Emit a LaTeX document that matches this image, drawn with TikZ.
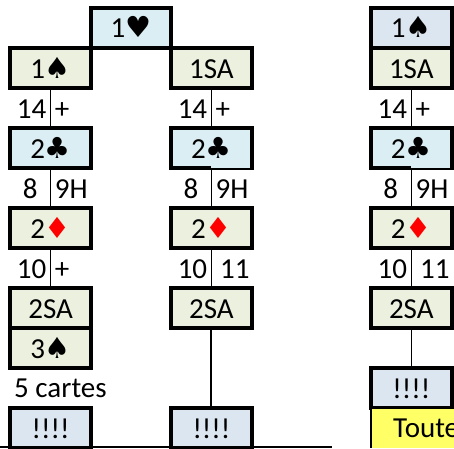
\documentclass[tikz,border=0pt]{standalone}
\usepackage{fontspec}
\setmainfont{Carlito}
\newfontfamily\suitfont{DejaVu Sans}
\usetikzlibrary{positioning}
\definecolor{bidblue}{HTML}{DAEEF3}
\definecolor{bidgreen}{HTML}{EBF1DE}
\definecolor{bidstop}{HTML}{DCE6F1}
\definecolor{bidnote}{HTML}{FFFF66}
\newcommand{\pique}{{\suitfont\char"2660}}
\newcommand{\coeur}{{\suitfont\char"2665}}
\newcommand{\trefle}{{\suitfont\char"2663}}
\newcommand{\carreau}{{\suitfont\color{red}\char"2666}}
\tikzset{
    bid/.style={draw, line width=4pt, minimum width=80.4pt, minimum height=40pt, inner sep=0pt, text height=22pt, text depth=2pt, font=\fontsize{29}{29}\selectfont},
    open/.style={bid, fill=bidblue},
    resp/.style={bid, fill=bidgreen},
    stopbox/.style={bid, fill=bidstop},
    link/.style={draw, line width=1.5pt},
    val/.style={inner sep=0pt, text height=22pt, text depth=2pt, font=\fontsize{29}{29}\selectfont},
}
\begin{document}
\begin{tikzpicture}[on grid, node distance=80pt]
    \useasboundingbox (0,0) rectangle (454pt,-448pt);
    \clip (0,0) rectangle (454pt,-448pt);

    % Column heads
    \node[open] (coeur1) at (131pt,-27.5pt) {1\coeur};
    \node[resp] (piqueA) [below left=40.5pt and 80.4pt of coeur1] {1\pique};
    \node[resp] (sansB) [below right=40.5pt and 80.4pt of coeur1] {1SA};

    % Left column
    \node[open] (trefleA) [below=of piqueA] {2\trefle};
    \node[resp] (carreauA) [below=of trefleA] {2\carreau};
    \node[resp] (deuxA) [below=of carreauA] {2SA};
    \node[resp] (troisA) [below=40pt of deuxA] {3\pique};
    \node[stopbox] (stopA) [below=80pt of troisA] {!!!!};
    \node[val, anchor=west] (cartes) at (14pt,-387pt) {5 cartes};

    % Middle column
    \node[open] (trefleB) [below=of sansB] {2\trefle};
    \node[resp] (carreauB) [below=of trefleB] {2\carreau};
    \node[resp] (deuxB) [below=of carreauB] {2SA};
    \node[stopbox] (stopB) [below=120pt of deuxB] {!!!!};

    % Right column
    \node[stopbox] (piqueC) at (411.3pt,-27.5pt) {1\pique};
    \node[resp] (sansC) [below=40.5pt of piqueC] {1SA};
    \node[open] (trefleC) [below=of sansC] {2\trefle};
    \node[resp] (carreauC) [below=of trefleC] {2\carreau};
    \node[resp] (deuxC) [below=of carreauC] {2SA};
    \node[stopbox] (stopC) [below=80pt of deuxC] {!!!!};
    \coordinate (noteA) at (371pt,-409pt);
    \coordinate (noteB) at (371pt,-448pt);
    \path[fill=bidnote] (noteA) rectangle (454pt,-448pt);
    \draw[line width=1.2pt] (noteA) -- (noteB);
    \node[val, anchor=base west] (toutes) at (393pt,-437pt) {Toute};

    % Thin right half of the lower border
    \path[fill=bidblue] ([yshift=1.6pt]trefleB.south) rectangle ([xshift=-4pt,yshift=4.2pt]trefleB.south east);
    \path[fill=bidblue] ([yshift=1.6pt]trefleC.south) rectangle ([xshift=-4pt,yshift=4.2pt]trefleC.south east);

    % Links
    \draw[link] (piqueA) -- node[val, left=3.5pt] (hA) {14} node[val, right=3.5pt] (pA) {+} (trefleA);
    \draw[link] (trefleA) -- node[val, xshift=-20.5pt] (bA) {8} node[val, right=3.5pt] (nA) {9H} (carreauA);
    \draw[link] (carreauA) -- node[val, left=3.5pt] (dA) {10} node[val, right=3.5pt] (qA) {+} (deuxA);

    \draw[link] (sansB) -- node[val, left=3.5pt] (hB) {14} node[val, right=3.5pt] (pB) {+} (trefleB);
    \draw[link] (trefleB) -- node[val, xshift=-20.5pt] (bB) {8} node[val, right=3.5pt] (nB) {9H} (carreauB);
    \draw[link] (carreauB) -- node[val, left=3.5pt] (dB) {10} node[val, right=8pt] (oB) {11} (deuxB);
    \draw[link, line width=2pt] (deuxB) -- (stopB);

    \draw[link] (sansC) -- node[val, left=3.5pt] (hC) {14} node[val, right=3.5pt] (pC) {+} (trefleC);
    \draw[link] (trefleC) -- node[val, xshift=-20.5pt] (bC) {8} node[val, right=3.5pt] (nC) {9H} (carreauC);
    \draw[link] (carreauC) -- node[val, left=3.5pt] (dC) {10} node[val, right=8pt] (oC) {11} (deuxC);
    \draw[link] (deuxC) -- (stopC);

    % Bottom rule
    \coordinate (ruleA) at (0pt,-447pt);
    \coordinate (ruleB) at (332pt,-447pt);
    \draw[line width=1.5pt] (ruleA) -- (ruleB);
\end{tikzpicture}
\end{document}
